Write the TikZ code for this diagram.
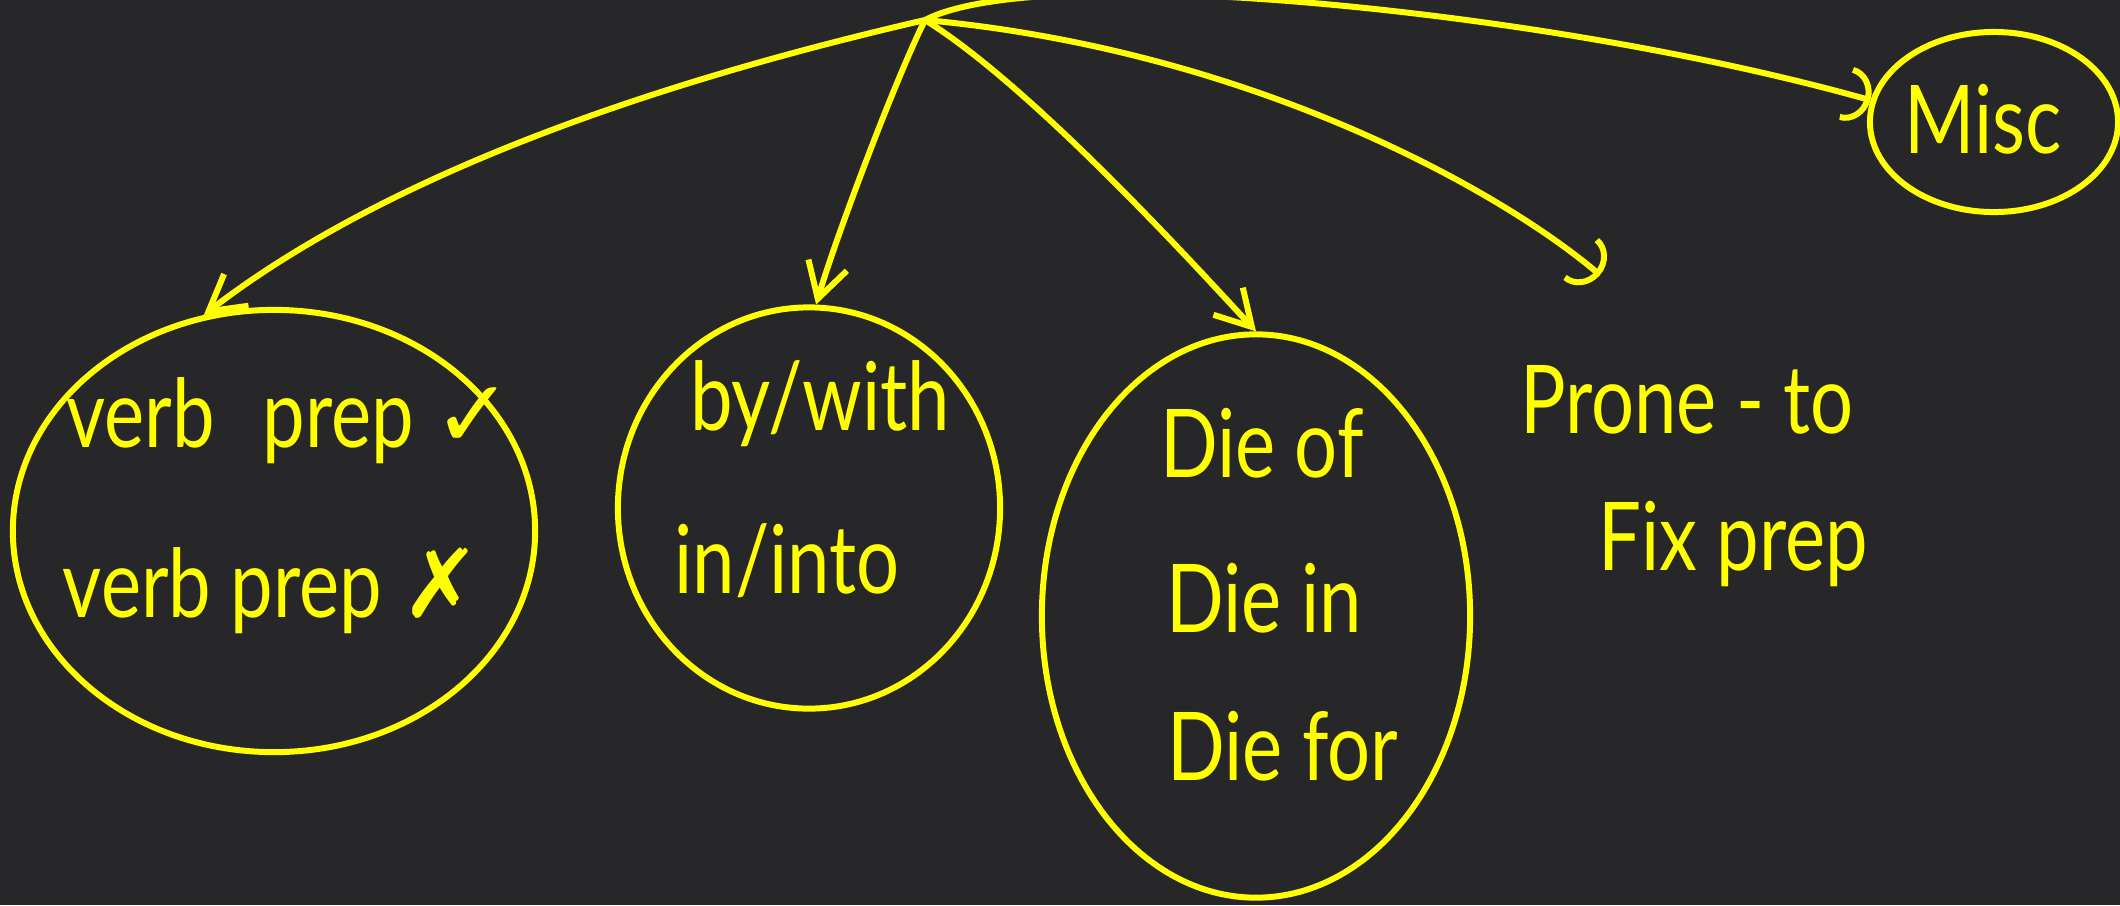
\documentclass[tikz,border=0pt]{standalone}
\usepackage{fontspec}
\setmainfont{Lato}
\newfontfamily\handfont[FakeStretch=0.8]{Lato}
\newfontfamily\symfont{DejaVu Sans}
\usepackage{tikz}
\usetikzlibrary{shapes.geometric,arrows.meta}
\definecolor{board}{RGB}{39,39,41}
\definecolor{chalk}{RGB}{255,255,0}

\begin{document}
\begin{tikzpicture}[x=0.01cm,y=-0.01cm,
  bubble/.style={draw=chalk,ellipse,line width=1.7pt,inner sep=0pt},
  scrawl/.style={text=chalk,anchor=base,inner sep=0pt,font=\handfont\fontsize{27}{30}\selectfont},
  arr/.style={draw=chalk,line width=1.7pt,-{Straight Barb[length=3.5mm,width=4mm]}},
  arcarr/.style={draw=chalk,line width=1.7pt,-{Arc Barb[length=2.5mm,width=5.5mm]}}]
  \useasboundingbox (0,0) rectangle (2120,905);
  \fill[board] (0,0) rectangle (2120,905);
  \clip (0,0) rectangle (2120,905);
  % groups
  \node[bubble,minimum width=5.22cm,minimum height=4.42cm] (verbgrp) at (274,531) {};
  \node[bubble,minimum width=3.82cm,minimum height=4.01cm] (withgrp) at (809,508) {};
  \node[bubble,minimum width=4.28cm,minimum height=5.63cm] (diegrp) at (1256,616) {};
  \node[bubble,minimum width=2.48cm,minimum height=1.80cm] (miscgrp) at (1994,122) {};
  % texts
  \node[scrawl] (verbok) at (290,447) {verb\hspace{0.3em} prep {\symfont ✓}};
  \node[scrawl] (verbno) at (272,617) {verb prep {\symfont ✗}};
  \node[scrawl] (bywith) at (820,430) {by/with};
  \node[scrawl] (ininto) at (787,593) {in/into};
  \node[scrawl] (dieof) at (1262,477) {Die of};
  \node[scrawl] (diein) at (1264,632) {Die in};
  \node[scrawl] (diefor) at (1283,780) {Die for};
  \node[scrawl] (misc) at (1983,153) {Misc};
  \node[scrawl] (prone) at (1687,433) {Prone - to};
  \node[scrawl] (fixprep) at (1733,570) {Fix prep};
  % arrows
  \coordinate (root) at (925,20);
  \coordinate (pronetip) at (1600,275);
  \draw[arr] (root) .. controls (600,95) and (362,193) .. (verbgrp.108);
  \draw[arr] (root) .. controls (895,80) and (835,240) .. (withgrp.88);
  \draw[arr] (root) .. controls (1030,85) and (1190,260) .. (diegrp.90);
  \draw[arcarr] (root) .. controls (1250,50) and (1500,190) .. (pronetip);
  \draw[arcarr] (root) .. controls (1040,-40) and (1550,10) .. (miscgrp.170);
\end{tikzpicture}
\end{document}
